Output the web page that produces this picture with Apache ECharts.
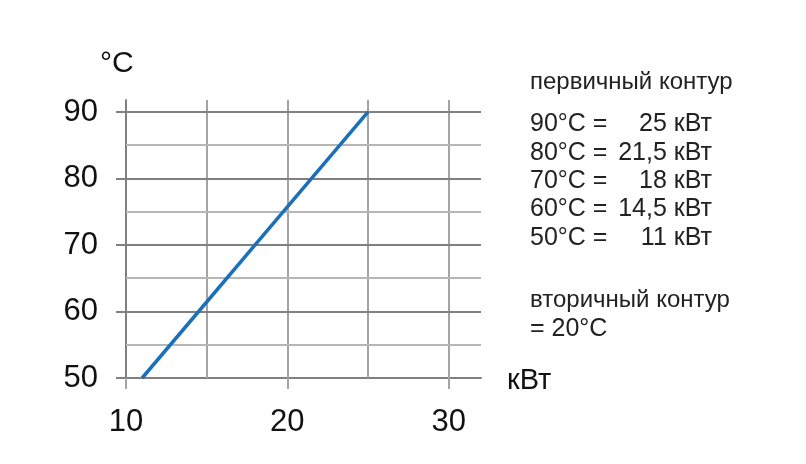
<!DOCTYPE html>
<html>
<head>
<meta charset="utf-8">
<script src="https://cdn.jsdelivr.net/npm/echarts@6/dist/echarts.min.js"></script>
<style>
html,body{margin:0;padding:0;background:#fff;}
#chart{width:806px;height:464px;}
</style>
</head>
<body>
<div id="chart"></div>
<script>
// Data
const powerKW = [11, 14.5, 18, 21.5, 25];
const tempC = [50, 60, 70, 80, 90];
const xTicks = [10, 20, 30];
const yTicks = [50, 60, 70, 80, 90];
const xGridLines = [15, 20, 25, 30];
const yMajorGrid = [60, 70, 80, 90];
const yMinorGrid = [55, 65, 75, 85];
const legendTitle = 'первичный контур';
const legendLeft = ['90°C =', '80°C =', '70°C =', '60°C =', '50°C ='];
const legendRight = ['25 кВт', '21,5 кВт', '18 кВт', '14,5 кВт', '11 кВт'];
const secondaryText = ['вторичный контур', '= 20°C'];
const yUnit = '°C';
const xUnit = 'кВт';

const FONT = '"Liberation Sans", Arial, sans-serif';
const majorCol = '#808080';
const minorCol = '#b6b6b6';
const vertCol = '#a4a4a4';

const chart = echarts.init(document.getElementById('chart'), null, {renderer: 'canvas'});

const gridMarks = [];
xGridLines.forEach(v => gridMarks.push({xAxis: v, lineStyle: {color: vertCol, width: 2, type: 'solid'}}));
yMinorGrid.forEach(v => gridMarks.push({yAxis: v, lineStyle: {color: minorCol, width: 2, type: 'solid'}}));
yMajorGrid.forEach(v => gridMarks.push({yAxis: v, lineStyle: {color: majorCol, width: 2, type: 'solid'}}));

const graphics = [];
graphics.push({type: 'text', left: 100, top: 49, style: {text: yUnit, font: '30px ' + FONT, fill: '#111'}});
graphics.push({type: 'text', left: 507, top: 366, style: {text: xUnit, font: '29px ' + FONT, fill: '#111'}});
graphics.push({type: 'text', left: 530, top: 70, style: {text: legendTitle, font: '24px ' + FONT, fill: '#222'}});
const rowY = [112, 141, 169, 197, 226];
legendLeft.forEach((t, i) => {
  graphics.push({type: 'text', x: 530, y: rowY[i], style: {text: t, font: '25px ' + FONT, fill: '#222'}});
  graphics.push({type: 'text', x: 712, y: rowY[i], style: {text: legendRight[i], font: '25px ' + FONT, fill: '#222', align: 'right'}});
});
graphics.push({type: 'text', left: 530, top: 288, style: {text: secondaryText[0], font: '24px ' + FONT, fill: '#222'}});
graphics.push({type: 'text', left: 530, top: 317, style: {text: secondaryText[1], font: '25px ' + FONT, fill: '#222'}});

chart.setOption({
  animation: false,
  backgroundColor: '#fff',
  grid: {left: 126, right: 806 - 481, top: 100, bottom: 464 - 378, containLabel: false},
  xAxis: {
    type: 'value', min: 10, max: 32,
    axisLine: {show: true, lineStyle: {color: majorCol, width: 2}},
    axisTick: {show: true, customValues: xTicks, length: 11, lineStyle: {color: vertCol, width: 2}},
    axisLabel: {customValues: xTicks, fontSize: 31, fontFamily: FONT, color: '#111', margin: 29},
    splitLine: {show: false}
  },
  yAxis: {
    type: 'value', min: 50, max: 91.8,
    axisLine: {show: true, lineStyle: {color: majorCol, width: 2}},
    axisTick: {show: true, customValues: yTicks, length: 10, lineStyle: {color: majorCol, width: 2}},
    axisLabel: {customValues: yTicks, fontSize: 31, fontFamily: FONT, color: '#111', margin: 28},
    splitLine: {show: false}
  },
  graphic: graphics,
  series: [
    {
      type: 'line', data: [], z: 1, silent: true,
      markLine: {silent: true, symbol: 'none', label: {show: false}, animation: false, data: gridMarks}
    },
    {
      type: 'line', z: 5, symbol: 'none',
      data: powerKW.map((p, i) => [p, tempC[i]]),
      lineStyle: {color: '#1b70ba', width: 3.5}
    }
  ]
});
</script>
</body>
</html>
